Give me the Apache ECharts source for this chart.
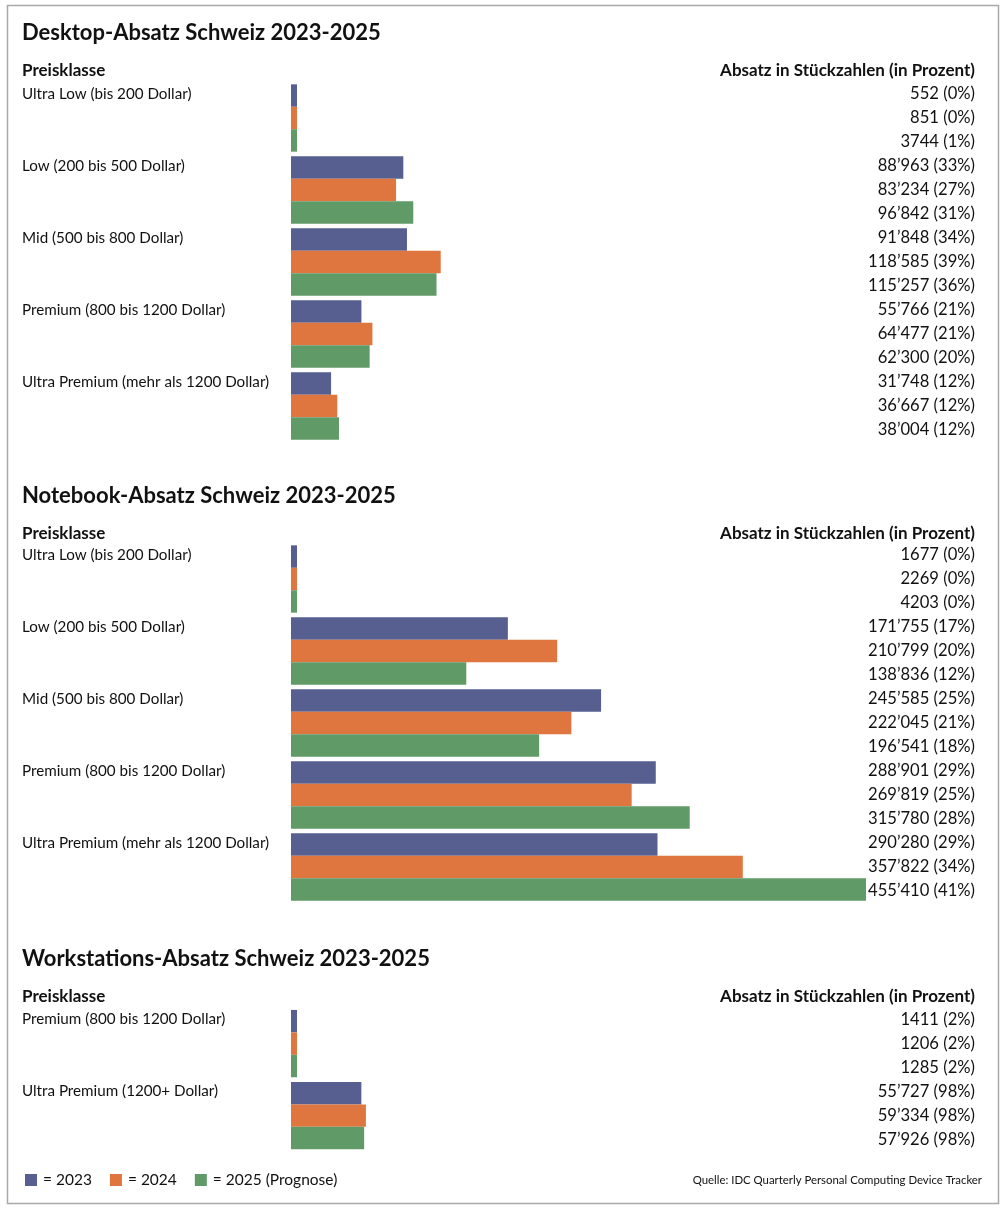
<!DOCTYPE html>
<html>
<head>
<meta charset="utf-8">
<script src="https://cdn.jsdelivr.net/npm/echarts@6/dist/echarts.min.js"></script>
<style>
html,body{margin:0;padding:0;background:#fff;}
#chart{width:1008px;height:1211px;}
</style>
</head>
<body>
<div id="chart"></div>
<script>
// ---- data ----
const years = ['2023', '2024', '2025 (Prognose)'];
const colors = ['#565f90', '#e0763f', '#609a67'];

const desktopTitle = 'Desktop-Absatz Schweiz 2023-2025';
const desktopCats = ['Ultra Low (bis 200 Dollar)', 'Low (200 bis 500 Dollar)', 'Mid (500 bis 800 Dollar)', 'Premium (800 bis 1200 Dollar)', 'Ultra Premium (mehr als 1200 Dollar)'];
const desktop2023 = [552, 88963, 91848, 55766, 31748];
const desktop2024 = [851, 83234, 118585, 64477, 36667];
const desktop2025 = [3744, 96842, 115257, 62300, 38004];
const desktopPct2023 = [0, 33, 34, 21, 12];
const desktopPct2024 = [0, 27, 39, 21, 12];
const desktopPct2025 = [1, 31, 36, 20, 12];

const notebookTitle = 'Notebook-Absatz Schweiz 2023-2025';
const notebookCats = ['Ultra Low (bis 200 Dollar)', 'Low (200 bis 500 Dollar)', 'Mid (500 bis 800 Dollar)', 'Premium (800 bis 1200 Dollar)', 'Ultra Premium (mehr als 1200 Dollar)'];
const notebook2023 = [1677, 171755, 245585, 288901, 290280];
const notebook2024 = [2269, 210799, 222045, 269819, 357822];
const notebook2025 = [4203, 138836, 196541, 315780, 455410];
const notebookPct2023 = [0, 17, 25, 29, 29];
const notebookPct2024 = [0, 20, 21, 25, 34];
const notebookPct2025 = [0, 12, 18, 28, 41];

const wsTitle = 'Workstations-Absatz Schweiz 2023-2025';
const wsCats = ['Premium (800 bis 1200 Dollar)', 'Ultra Premium (1200+ Dollar)'];
const ws2023 = [1411, 55727];
const ws2024 = [1206, 59334];
const ws2025 = [1285, 57926];
const wsPct2023 = [2, 98];
const wsPct2024 = [2, 98];
const wsPct2025 = [2, 98];

const leftHeader = 'Preisklasse';
const rightHeader = 'Absatz in Stückzahlen (in Prozent)';
const sourceText = 'Quelle: IDC Quarterly Personal Computing Device Tracker';

// ---- layout ----
const FONT = 'Lato';
const gridLeft = 291, gridRight = 142;
const pitch = 72;
const panels = [
  {title: desktopTitle, cats: desktopCats, vals: [desktop2023, desktop2024, desktop2025], pct: [desktopPct2023, desktopPct2024, desktopPct2025], top: 82, titleY: 33, headY: 71},
  {title: notebookTitle, cats: notebookCats, vals: [notebook2023, notebook2024, notebook2025], pct: [notebookPct2023, notebookPct2024, notebookPct2025], top: 543, titleY: 496, headY: 534},
  {title: wsTitle, cats: wsCats, vals: [ws2023, ws2024, ws2025], pct: [wsPct2023, wsPct2024, wsPct2025], top: 1007.6, titleY: 959, headY: 997}
];

function fmt(n) {
  const s = String(n);
  if (n < 10000) return s;
  return s.replace(/\B(?=(\d{3})+(?!\d))/g, '\u2019');
}

const maxVal = Math.max(...panels.flatMap(p => p.vals.flat()));

const grids = [], xAxes = [], yAxes = [], series = [], graphics = [];
panels.forEach((p, g) => {
  const n = p.cats.length;
  grids.push({left: gridLeft, right: gridRight, top: p.top, height: n * pitch});
  xAxes.push({type: 'value', gridIndex: g, min: 0, max: maxVal, show: false});
  const barAxis = yAxes.length;
  yAxes.push({type: 'category', gridIndex: g, data: p.cats, inverse: true, show: false});
  const slots = [], rightLabels = [];
  p.cats.forEach((c, i) => {
    for (let k = 0; k < 3; k++) {
      slots.push(k === 0 ? c : '');
      rightLabels.push(fmt(p.vals[k][i]) + ' (' + p.pct[k][i] + '%)');
    }
  });
  yAxes.push({
    type: 'category', gridIndex: g, data: slots, inverse: true, position: 'left',
    axisLine: {show: false}, axisTick: {show: false}, splitLine: {show: false},
    axisLabel: {interval: 0, align: 'left', margin: gridLeft - 22, fontFamily: FONT, fontSize: 15.2, color: '#111'}
  });
  yAxes.push({
    type: 'category', gridIndex: g, data: rightLabels, inverse: true, position: 'right',
    axisLine: {show: false}, axisTick: {show: false}, splitLine: {show: false},
    axisLabel: {interval: 0, align: 'right', margin: 975 - (1008 - gridRight), fontFamily: FONT, fontSize: 16.6, color: '#111'}
  });
  for (let k = 0; k < 3; k++) {
    series.push({
      type: 'bar', name: years[k], xAxisIndex: g, yAxisIndex: barAxis,
      data: p.vals[k], barGap: '0%', barCategoryGap: '6.5%', barMinHeight: 6,
      itemStyle: {color: colors[k]}, silent: true
    });
  }
  graphics.push({type: 'text', x: 22, y: p.titleY, style: {text: p.title, font: 'bold 22px ' + FONT, fill: '#111', textVerticalAlign: 'middle'}});
  graphics.push({type: 'text', x: 22, y: p.headY, style: {text: leftHeader, font: 'bold 17px ' + FONT, fill: '#111', textVerticalAlign: 'middle'}});
  graphics.push({type: 'text', x: 975, y: p.headY, style: {text: rightHeader, font: 'bold 17px ' + FONT, fill: '#111', textAlign: 'right', textVerticalAlign: 'middle'}});
});

graphics.push({type: 'text', x: 982, y: 1180, style: {text: sourceText, font: '11.4px ' + FONT, fill: '#111', textAlign: 'right', textVerticalAlign: 'middle'}});
graphics.push({type: 'rect', shape: {x: 7.5, y: 5.5, width: 991, height: 1198}, style: {fill: 'none', stroke: '#a9a9a9', lineWidth: 1.5}, z: -1});

const chart = echarts.init(document.getElementById('chart'), null, {renderer: 'canvas'});
chart.setOption({
  animation: false,
  backgroundColor: '#fff',
  grid: grids,
  xAxis: xAxes,
  yAxis: yAxes,
  series: series,
  legend: {
    data: years, left: 25, top: 1172, icon: 'rect', itemWidth: 12, itemHeight: 12, itemGap: 18,
    selectedMode: false, padding: 0,
    formatter: name => '= ' + name,
    textStyle: {fontFamily: FONT, fontSize: 15.5, color: '#111', padding: [0, 0, 0, 1]}
  },
  graphic: graphics
});
</script>
</body>
</html>
